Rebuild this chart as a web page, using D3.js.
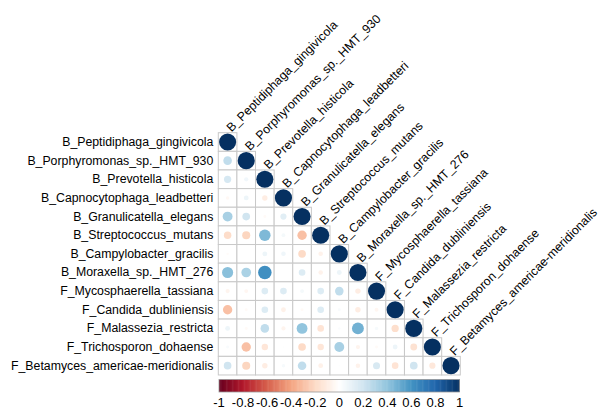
<!DOCTYPE html>
<html>
<head>
<meta charset="utf-8">
<script src="https://cdn.jsdelivr.net/npm/d3@7"></script>
<style>
  html, body { margin: 0; padding: 0; background: #fff; }
  svg text { font-family: "Liberation Sans", Arial, sans-serif; fill: #000; }
</style>
</head>
<body>
<svg id="chart" width="603" height="411"></svg>
<script>
// Taxa shown on both axes (row order = column order)
const taxa = [
  "B_Peptidiphaga_gingivicola",
  "B_Porphyromonas_sp._HMT_930",
  "B_Prevotella_histicola",
  "B_Capnocytophaga_leadbetteri",
  "B_Granulicatella_elegans",
  "B_Streptococcus_mutans",
  "B_Campylobacter_gracilis",
  "B_Moraxella_sp._HMT_276",
  "F_Mycosphaerella_tassiana",
  "F_Candida_dubliniensis",
  "F_Malassezia_restricta",
  "F_Trichosporon_dohaense",
  "F_Betamyces_americae-meridionalis"
];

// Lower triangle of the correlation matrix, one array per row (diagonal included)
const corrLower = [
  [1],
  [0.25, 1],
  [0.18, 0.06, 1],
  [-0.04, 0.08, -0.1, 1],
  [0.33, 0.2, -0.03, 0.13, 1],
  [-0.19, -0.22, 0.45, 0.05, -0.3, 1],
  [-0.02, 0, 0.08, 0.07, -0.2, -0.07, 1],
  [0.42, 0.32, 0.62, 0, 0.15, -0.07, 0.08, 1],
  [-0.06, -0.05, 0.15, 0.15, 0.05, 0.15, 0.25, -0.1, 1],
  [-0.3, -0.03, 0.15, -0.08, -0.03, 0.15, 0.03, -0.1, -0.05, 1],
  [0.08, -0.03, 0.25, -0.06, 0.4, -0.15, 0.02, 0.48, 0.04, -0.18, 1],
  [0.03, -0.3, -0.14, 0.01, -0.2, -0.14, 0.33, -0.06, -0.03, 0.08, -0.16, 1],
  [0.2, -0.22, -0.1, 0.04, 0.25, -0.08, 0.01, -0.07, 0.17, -0.15, 0.2, -0.13, 1]
];

// Colour bar ticks and their printed labels
const legendTicks = [-1, -0.8, -0.6, -0.4, -0.2, 0, 0.2, 0.4, 0.6, 0.8, 1];
const legendLabels = ["-1", "-0.8", "-0.6", "-0.4", "-0.2", "0", "0.2", "0.4", "0.6", "0.8", "1"];

// Diverging red-white-blue palette
const paletteStops = ["#67001F", "#B2182B", "#D6604D", "#F4A582", "#FDDBC7",
                      "#FFFFFF", "#D1E5F0", "#92C5DE", "#4393C3", "#2166AC", "#053061"];

const svg = d3.select("#chart");

const gridLeft = 218.3, gridTop = 132.7, gridRight = 460.3, gridBottom = 375;

const x = d3.scaleBand().domain(taxa).range([gridLeft, gridRight]).padding(0);
const y = d3.scaleBand().domain(taxa).range([gridTop, gridBottom]).padding(0);
const cell = x.bandwidth();

const color = d3.scaleLinear()
  .domain(d3.range(paletteStops.length).map(i => -1 + 2 * i / (paletteStops.length - 1)))
  .range(paletteStops)
  .interpolate(d3.interpolateRgb);

const rScale = d3.scaleSqrt().domain([0, 1]).range([0, cell * 0.46]);

// flatten lower triangle into cells
const cells = [];
corrLower.forEach((row, i) => {
  row.forEach((v, j) => cells.push({ row: taxa[i], col: taxa[j], value: v }));
});

// grid
svg.append("g").selectAll("rect")
  .data(cells)
  .join("rect")
  .attr("x", d => x(d.col))
  .attr("y", d => y(d.row))
  .attr("width", cell)
  .attr("height", cell)
  .attr("fill", "#fff")
  .attr("stroke", "#c8c8c8")
  .attr("stroke-width", 1);

// circles
svg.append("g").selectAll("circle")
  .data(cells)
  .join("circle")
  .attr("cx", d => x(d.col) + cell / 2)
  .attr("cy", d => y(d.row) + cell / 2)
  .attr("r", d => rScale(Math.abs(d.value)))
  .attr("fill", d => color(d.value));

// row labels
svg.append("g").selectAll("text")
  .data(taxa)
  .join("text")
  .attr("x", gridLeft - 5)
  .attr("y", d => y(d) + cell / 2)
  .attr("text-anchor", "end")
  .attr("dominant-baseline", "central")
  .attr("font-size", 12.3)
  .text(d => d);

// column labels above the diagonal
svg.append("g").selectAll("text")
  .data(taxa)
  .join("text")
  .attr("transform", d => `translate(${x(d) + cell / 2 + 1},${y(d) - 3}) rotate(-45)`)
  .attr("text-anchor", "start")
  .attr("dominant-baseline", "central")
  .attr("font-size", 12.3)
  .text(d => d);

// colour bar
const barLeft = 219, barRight = 459.5, barTop = 379.5, barH = 12.5;
const lx = d3.scaleLinear().domain([-1, 1]).range([barLeft, barRight]);
const steps = d3.range(-1, 1, 0.01);
svg.append("g").selectAll("rect")
  .data(steps)
  .join("rect")
  .attr("x", d => lx(d))
  .attr("y", barTop)
  .attr("width", lx(0.01) - lx(0) + 0.5)
  .attr("height", barH)
  .attr("fill", d => color(d + 0.005));

svg.append("rect")
  .attr("x", barLeft).attr("y", barTop)
  .attr("width", barRight - barLeft).attr("height", barH)
  .attr("fill", "none").attr("stroke", "#9a9a9a").attr("stroke-width", 0.8);

svg.append("g").selectAll("text")
  .data(legendTicks)
  .join("text")
  .attr("x", d => lx(d))
  .attr("y", 402)
  .attr("text-anchor", "middle")
  .attr("dominant-baseline", "central")
  .attr("font-size", 13)
  .text((d, i) => legendLabels[i]);
</script>
</body>
</html>
